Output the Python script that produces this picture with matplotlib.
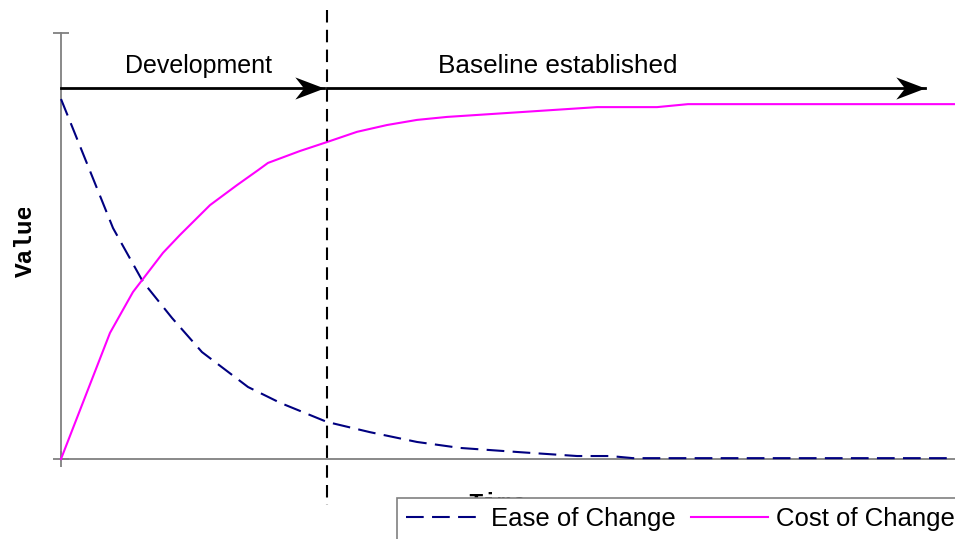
import matplotlib
matplotlib.use("Agg")
import matplotlib.pyplot as plt
from matplotlib.path import Path
from matplotlib.transforms import Bbox, TransformedBbox

# ---- data (arbitrary units, time 0..100, value 0..100) ----
cost_t = [0, 5.48, 8.05, 11.41, 13.31, 16.67, 19.69, 22.04, 23.15, 26.73, 29.75,
          33.11, 36.47, 39.82, 43.18, 59.96, 66.67, 70.13, 100]
cost_v = [0, 29.6, 39.2, 48.4, 52.6, 59.6, 64.3, 67.8, 69.5, 72.3, 74.4,
          76.8, 78.4, 79.6, 80.3, 82.6, 82.6, 83.3, 83.3]

ease_t = [0, 5.82, 9.17, 12.42, 15.77, 20.92, 24.50, 29.75, 34.56, 39.82, 44.63,
          51.34, 57.72, 61.41, 63.98, 100]
ease_v = [84.5, 54.2, 41.6, 33.1, 25.1, 16.9, 13.2, 8.7, 6.3, 4.0, 2.6,
          1.6, 0.7, 0.7, 0.2, 0.2]

baseline_t = 29.75
arrow_y = 87.1
phase_labels = ["Development", "Baseline established"]
phase_label_x = [15.4, 55.6]
phase_label_size = [18, 18.8]
series_names = ["Ease of Change", "Cost of Change"]

W, H = 955, 539
fig = plt.figure(figsize=(W / 100, H / 100), dpi=100)
ax = fig.add_axes([61 / W, (H - 459) / H, 1 - 61 / W, (459 - 33) / H])
ax.set_xlim(0, 100)
ax.set_ylim(0, 100)

sans = ["Liberation Sans", "DejaVu Sans"]
mono = ["Liberation Mono", "DejaVu Sans Mono"]

l1, = ax.plot(ease_t, ease_v, color="#000080", lw=1.5, dashes=[8.5, 4],
              label=series_names[0], clip_on=False, zorder=3)
l2, = ax.plot(cost_t, cost_v, color="#FF00FF", lw=1.5,
              label=series_names[1], clip_on=False, zorder=3)

# vertical dashed separator
ax.plot([baseline_t, baseline_t], [105.4, -10.8], color="black", lw=1.5,
        dashes=[6, 3.5], clip_on=False, zorder=4)

# arrows
head = Path([(0, 0), (-1, 0.38), (-0.70, 0), (-1, -0.38), (0, 0)],
            [Path.MOVETO, Path.LINETO, Path.LINETO, Path.LINETO, Path.CLOSEPOLY])
ax.plot([0, baseline_t - 0.3], [arrow_y, arrow_y], color="black", lw=2,
        clip_on=False, zorder=5)
ax.plot([baseline_t, 96.6], [arrow_y, arrow_y], color="black", lw=2,
        clip_on=False, zorder=5)
for tip in [baseline_t - 0.3, 96.6]:
    ax.plot([tip], [arrow_y], marker=head, markersize=42, color="black",
            markeredgewidth=0, clip_on=False, zorder=6)

for lab, x, fs in zip(phase_labels, phase_label_x, phase_label_size):
    ax.text(x, 90.6, lab, ha="center", va="baseline", fontsize=fs,
            family=sans, color="black")

# axes styling
for s in ["top", "right"]:
    ax.spines[s].set_visible(False)
for s in ["left", "bottom"]:
    ax.spines[s].set_color("#808080")
    ax.spines[s].set_linewidth(1.3)
ax.set_yticks([0, 100])
ax.set_xticks([0])
ax.tick_params(axis="both", direction="inout", length=12, width=1.3,
               color="#808080", labelleft=False, labelbottom=False)

# axis labels (partially hidden like the reference)
vlab = fig.text(25 / W, 1 - 240.5 / H, "Value", rotation=90, ha="center",
                va="center", fontsize=17.6, fontweight="bold", family=mono)
vlab.set_clip_box(TransformedBbox(Bbox([[0, 0], [1, (H - 208) / H]]),
                                  fig.transFigure))
vlab.set_clip_on(True)
fig.text(497 / W, 1 - 492 / H, "Time", ha="center", va="top", fontsize=17.6,
         fontweight="bold", family=mono, zorder=1)

leg = fig.legend(handles=[l1, l2], loc="upper left",
                 bbox_to_anchor=(397 / W, 1 - 498 / H), borderaxespad=0,
                 ncol=2, prop={"family": sans, "size": 18.5},
                 frameon=True, fancybox=False, framealpha=1,
                 edgecolor="#808080", handlelength=3, handletextpad=0.3,
                 columnspacing=0.6, borderpad=0.35)
leg.get_frame().set_linewidth(1.2)
leg.set_zorder(10)

fig.savefig("out.png", dpi=100)
